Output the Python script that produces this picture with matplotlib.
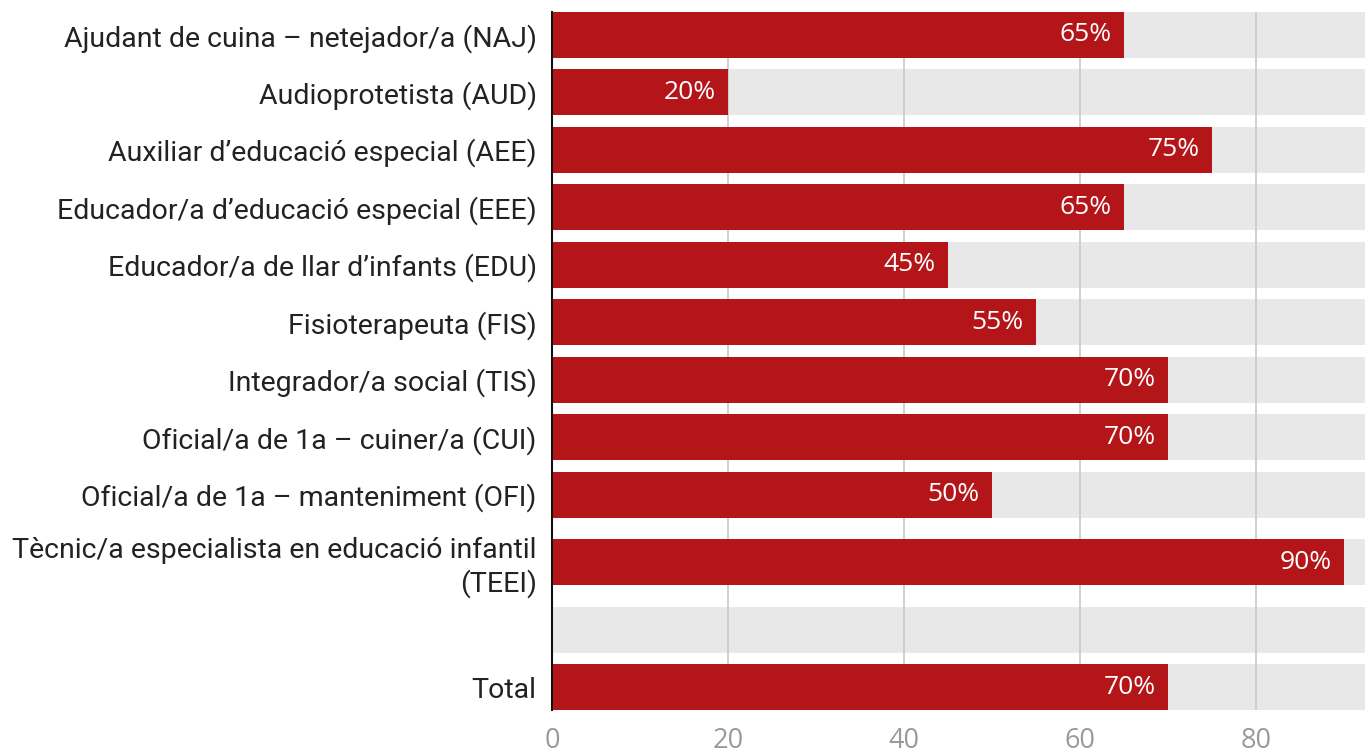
import numpy as np
import matplotlib
matplotlib.use("Agg")
import matplotlib.pyplot as plt

plt.rcParams['font.family'] = ['Roboto', 'DejaVu Sans']

categories = [
    "Ajudant de cuina – netejador/a (NAJ)",
    "Audioprotetista (AUD)",
    "Auxiliar d’educació especial (AEE)",
    "Educador/a d’educació especial (EEE)",
    "Educador/a de llar d’infants (EDU)",
    "Fisioterapeuta (FIS)",
    "Integrador/a social (TIS)",
    "Oficial/a de 1a – cuiner/a (CUI)",
    "Oficial/a de 1a – manteniment (OFI)",
    "Tècnic/a especialista en educació infantil\n(TEEI)",
    "",
    "Total",
]
values = [65, 20, 75, 65, 45, 55, 70, 70, 50, 90, None, 70]
xticks = [0, 20, 40, 60, 80]

bar_color = "#b31518"
band_color = "#e8e8e8"
x_max = 92.4

# rows with a wrapped label are a bit taller
row_h = np.array([1.35 if "\n" in c else 1.0 for c in categories])
ypos = np.cumsum(row_h) - row_h / 2

fig = plt.figure(figsize=(13.65, 7.53), dpi=100)
ax = fig.add_axes([552 / 1365, 1 - 710 / 753, 1 - 552 / 1365, 698 / 753])

ax.barh(ypos, [x_max] * len(ypos), height=0.8, color=band_color, zorder=0.2)
for y, v in zip(ypos, values):
    if v is None:
        continue
    ax.barh(y, v, height=0.8, color=bar_color, zorder=2)
    ax.annotate(f"{v}%", xy=(v, y), xytext=(-9, 0), textcoords="offset points",
                ha="right", va="center", color="white", fontsize=19,
                family=["Open Sans", "DejaVu Sans"], zorder=3)

ax.set_xlim(0, x_max)
ax.set_ylim(ypos[-1] + 0.4, ypos[0] - 0.4)
ax.set_yticks(ypos)
ax.set_yticklabels(categories, fontsize=20.5, color="#222222")
ax.set_xticks(xticks)
ax.set_xticklabels([str(t) for t in xticks], fontsize=19.5, color="#9a9a9a",
                   family=["Open Sans", "DejaVu Sans"])
ax.tick_params(axis="y", length=0, pad=11)
ax.tick_params(axis="x", length=0, pad=12)

ax.set_axisbelow(True)
ax.grid(axis="x", color="#cccccc", linewidth=1.3)
ax.grid(axis="y", visible=False)

for s in ["top", "right", "bottom"]:
    ax.spines[s].set_visible(False)
ax.spines["left"].set_color("#111111")
ax.spines["left"].set_linewidth(1.5)
ax.spines["left"].set_zorder(4)

fig.savefig("out.png", dpi=100)
